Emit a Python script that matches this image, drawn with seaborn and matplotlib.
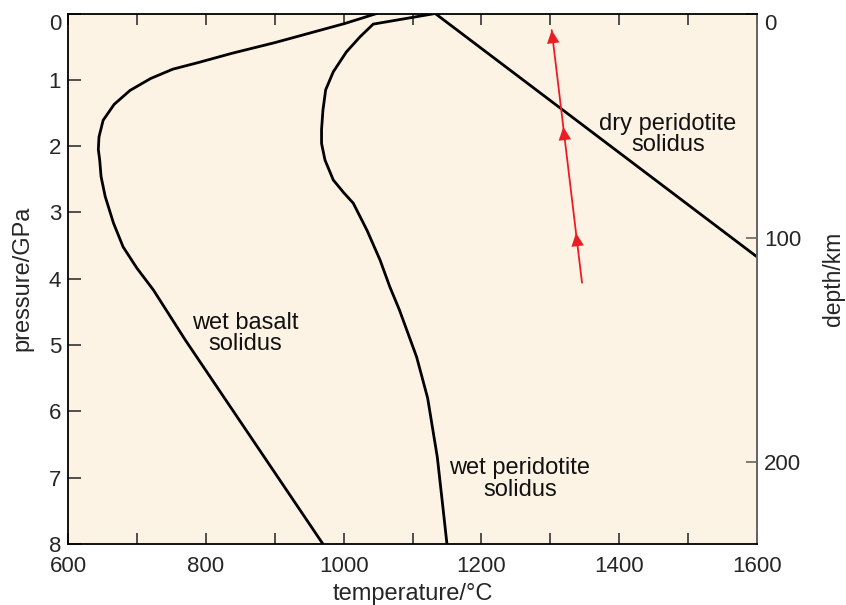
import numpy as np
import pandas as pd
import matplotlib
matplotlib.use("Agg")
import matplotlib.pyplot as plt
import seaborn as sns

# ---- data ----
basalt_T = [1048, 1002, 900, 838, 789, 752, 720, 690, 667, 651, 645, 644, 646, 648, 654,
            666, 680, 700, 724, 770, 970]
basalt_P = [0.0, 0.15, 0.44, 0.60, 0.74, 0.84, 0.98, 1.16, 1.37, 1.61, 1.86, 2.05, 2.21, 2.46, 2.76,
            3.16, 3.52, 3.84, 4.17, 4.92, 8.0]

wetper_T = [1133, 1043, 1024, 1004, 985, 974, 970, 968, 968, 973, 985, 1000, 1014, 1034, 1053,
            1067, 1081, 1106, 1122, 1136, 1143, 1150]
wetper_P = [0.0, 0.16, 0.35, 0.58, 0.88, 1.15, 1.46, 1.75, 1.96, 2.21, 2.51, 2.70, 2.86, 3.27, 3.72,
            4.12, 4.47, 5.18, 5.80, 6.69, 7.34, 8.0]

dryper_T = [1133, 1600]
dryper_P = [0.0, 3.67]

path_T = [1346, 1302]
path_P = [4.06, 0.25]
arrow_tip_P = [0.25, 1.71, 3.31]

labels = ["wet basalt\nsolidus", "wet peridotite\nsolidus", "dry peridotite\nsolidus"]
label_T = [857, 1256, 1471]
label_P = [4.82, 7.02, 1.82]

KM_PER_GPA = 29.6
depth_ticks = [0, 100, 200]

# ---- style ----
sns.set_style("ticks")
plt.rcParams['font.family'] = ['Liberation Sans', 'DejaVu Sans']
BG = '#fdf3e4'
RED = '#ec1c24'
FS = 16
FS_LAB = 17

fig = plt.figure(figsize=(8.46, 6.05), dpi=100)
ax = fig.add_axes([68/846, 1-544/605, (757-68)/846, (544-13.5)/605])
ax.set_facecolor(BG)

for T, P in [(basalt_T, basalt_P), (wetper_T, wetper_P), (dryper_T, dryper_P)]:
    df = pd.DataFrame({"T": T, "P": P})
    sns.lineplot(data=df, x="T", y="P", sort=False, estimator=None,
                 color='black', lw=2.0, ax=ax)
for ln in ax.get_lines():
    ln.set_solid_joinstyle('round')

pdf = pd.DataFrame({"T": path_T, "P": path_P})
sns.lineplot(data=pdf, x="T", y="P", sort=False, estimator=None, color=RED, lw=1.3, ax=ax)

# arrowheads along the path
def path_T_at(p):
    return np.interp(p, path_P[::-1], path_T[::-1])

for p in arrow_tip_P:
    ax.annotate('', xy=(path_T_at(p), p), xytext=(path_T_at(p + 0.2), p + 0.2),
                arrowprops=dict(arrowstyle='-|>,head_length=0.95,head_width=0.45',
                                mutation_scale=10, color=RED, lw=0,
                                shrinkA=0, shrinkB=0))

for t, x, y in zip(labels, label_T, label_P):
    ax.text(x, y, t, ha='center', va='center', fontsize=FS_LAB, color='#111111',
            linespacing=0.95)

ax.set_xlim(600, 1600)
ax.set_ylim(8, 0)
ax.set_xticks(np.arange(600, 1601, 200))
ax.set_xticks(np.arange(700, 1600, 200), minor=True)
ax.set_yticks(np.arange(0, 9, 1))
ax.tick_params(axis='x', which='both', direction='in', top=True, length=8,
               width=1.2, labelsize=FS, pad=9, color='#333333')
ax.tick_params(axis='y', which='both', direction='in', length=9,
               width=1.2, labelsize=FS, pad=5, color='#333333')
ax.set_xlabel('temperature/°C', fontsize=FS_LAB, labelpad=4)
ax.set_ylabel('pressure/GPa', fontsize=FS_LAB, labelpad=11)

for s in ['left', 'bottom', 'top']:
    ax.spines[s].set_color('black')
    ax.spines[s].set_linewidth(1.3)
ax.spines['right'].set_color('#666666')
ax.spines['right'].set_linewidth(1.3)

sec = ax.secondary_yaxis('right', functions=(lambda p: p*KM_PER_GPA, lambda d: d/KM_PER_GPA))
sec.set_yticks(depth_ticks)
sec.tick_params(direction='in', length=8, width=1.2, labelsize=FS, pad=5, color='#666666')
sec.spines['right'].set_color('#666666')
sec.spines['right'].set_linewidth(1.3)
sec.set_ylabel('depth/km', fontsize=16.5, labelpad=15)

fig.canvas.draw()
for lab in ax.get_yticklabels():
    if lab.get_text() == '0':
        lab.set_va('top')
for lab in sec.get_yticklabels():
    if lab.get_text() == '0':
        lab.set_va('top')

fig.savefig('out.png', dpi=100, facecolor='white')
